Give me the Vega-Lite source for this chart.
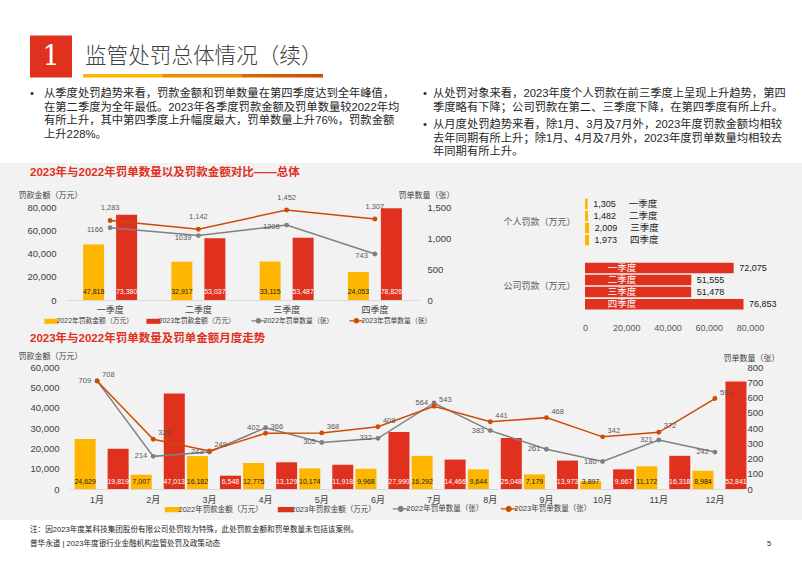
{
  "$schema": "https://vega.github.io/schema/vega-lite/v6.json",
  "background": "#F2F2F2",
  "padding": 0,
  "bounds": "flush",
  "spacing": 0,
  "config": {
    "font": "'Liberation Sans','Noto Sans CJK SC'",
    "view": {"stroke": null},
    "axis": {"ticks": false, "domain": false, "grid": false, "labelOverlap": false, "labelFlush": false, "labelColor": "#404040", "labelFontSize": 9, "titleFontSize": 8, "titleFontWeight": "normal", "titleColor": "#404040"},
    "title": {"anchor": "start", "frame": "group", "fontSize": 11.5, "fontWeight": "bold", "color": "#E0301E", "baseline": "middle"},
    "legend": {"labelColor": "#404040", "titleColor": "#404040"}
  },
  "resolve": {"scale": {"color": "independent"}, "legend": {"color": "independent"}},
  "datasets": {
    "hdr": [
      {"role": "badge", "text": "1"},
      {"role": "title", "text": "监管处罚总体情况（续）"},
      {"role": "body", "col": "L", "para": 1, "line": 1, "first": true, "text": "从季度处罚趋势来看，罚款金额和罚单数量在第四季度达到全年峰值，"},
      {"role": "body", "col": "L", "para": 1, "line": 2, "first": false, "text": "在第二季度为全年最低。2023年各季度罚款金额及罚单数量较2022年均"},
      {"role": "body", "col": "L", "para": 1, "line": 3, "first": false, "text": "有所上升，其中第四季度上升幅度最大，罚单数量上升76%，罚款金额"},
      {"role": "body", "col": "L", "para": 1, "line": 4, "first": false, "text": "上升228%。"},
      {"role": "body", "col": "R", "para": 1, "line": 1, "first": true, "text": "从处罚对象来看，2023年度个人罚款在前三季度上呈现上升趋势，第四"},
      {"role": "body", "col": "R", "para": 1, "line": 2, "first": false, "text": "季度略有下降；公司罚款在第二、三季度下降，在第四季度有所上升。"},
      {"role": "body", "col": "R", "para": 2, "line": 3, "first": true, "text": "从月度处罚趋势来看，除1月、3月及7月外，2023年度罚款金额均相较"},
      {"role": "body", "col": "R", "para": 2, "line": 4, "first": false, "text": "去年同期有所上升；除1月、4月及7月外，2023年度罚单数量均相较去"},
      {"role": "body", "col": "R", "para": 2, "line": 5, "first": false, "text": "年同期有所上升。"}
    ],
    "ftr": [
      {"col": "L", "line": 1, "text": "注：因2023年度某科技集团股份有限公司处罚较为特殊，此处罚款金额和罚单数量未包括该案例。"},
      {"col": "L", "line": 2, "text": "普华永道 | 2023年度银行业金融机构监管处罚及政策动态"},
      {"col": "R", "line": 2, "text": "5"}
    ],
    "qa": [
      {"q": "一季度", "yr": "2022", "s": "2022年罚款金额（万元）", "v": 47818},
      {"q": "一季度", "yr": "2023", "s": "2023年罚款金额（万元）", "v": 73380},
      {"q": "二季度", "yr": "2022", "s": "2022年罚款金额（万元）", "v": 32917},
      {"q": "二季度", "yr": "2023", "s": "2023年罚款金额（万元）", "v": 53037},
      {"q": "三季度", "yr": "2022", "s": "2022年罚款金额（万元）", "v": 33115},
      {"q": "三季度", "yr": "2023", "s": "2023年罚款金额（万元）", "v": 53487},
      {"q": "四季度", "yr": "2022", "s": "2022年罚款金额（万元）", "v": 24053},
      {"q": "四季度", "yr": "2023", "s": "2023年罚款金额（万元）", "v": 78826}
    ],
    "qc": [
      {"q": "一季度", "yr": "2022", "s": "2022年罚单数量（张）", "n": 1166},
      {"q": "二季度", "yr": "2022", "s": "2022年罚单数量（张）", "n": 1039},
      {"q": "三季度", "yr": "2022", "s": "2022年罚单数量（张）", "n": 1208},
      {"q": "四季度", "yr": "2022", "s": "2022年罚单数量（张）", "n": 743},
      {"q": "一季度", "yr": "2023", "s": "2023年罚单数量（张）", "n": 1283},
      {"q": "二季度", "yr": "2023", "s": "2023年罚单数量（张）", "n": 1142},
      {"q": "三季度", "yr": "2023", "s": "2023年罚单数量（张）", "n": 1452},
      {"q": "四季度", "yr": "2023", "s": "2023年罚单数量（张）", "n": 1307}
    ],
    "corp": [
      {"g": "个人罚款（万元）", "q": "一季度", "v": 1305},
      {"g": "个人罚款（万元）", "q": "二季度", "v": 1482},
      {"g": "个人罚款（万元）", "q": "三季度", "v": 2009},
      {"g": "个人罚款（万元）", "q": "四季度", "v": 1973},
      {"g": "公司罚款（万元）", "q": "一季度", "v": 72075},
      {"g": "公司罚款（万元）", "q": "二季度", "v": 51555},
      {"g": "公司罚款（万元）", "q": "三季度", "v": 51478},
      {"g": "公司罚款（万元）", "q": "四季度", "v": 76853}
    ],
    "ma": [
      {"m": "1月", "yr": "2022", "s": "2022年罚款金额（万元）", "v": 24629},
      {"m": "2月", "yr": "2022", "s": "2022年罚款金额（万元）", "v": 7007},
      {"m": "3月", "yr": "2022", "s": "2022年罚款金额（万元）", "v": 16182},
      {"m": "4月", "yr": "2022", "s": "2022年罚款金额（万元）", "v": 12775},
      {"m": "5月", "yr": "2022", "s": "2022年罚款金额（万元）", "v": 10174},
      {"m": "6月", "yr": "2022", "s": "2022年罚款金额（万元）", "v": 9968},
      {"m": "7月", "yr": "2022", "s": "2022年罚款金额（万元）", "v": 16292},
      {"m": "8月", "yr": "2022", "s": "2022年罚款金额（万元）", "v": 9644},
      {"m": "9月", "yr": "2022", "s": "2022年罚款金额（万元）", "v": 7179},
      {"m": "10月", "yr": "2022", "s": "2022年罚款金额（万元）", "v": 3897},
      {"m": "11月", "yr": "2022", "s": "2022年罚款金额（万元）", "v": 11172},
      {"m": "12月", "yr": "2022", "s": "2022年罚款金额（万元）", "v": 8984},
      {"m": "1月", "yr": "2023", "s": "2023年罚款金额（万元）", "v": 19819},
      {"m": "2月", "yr": "2023", "s": "2023年罚款金额（万元）", "v": 47013},
      {"m": "3月", "yr": "2023", "s": "2023年罚款金额（万元）", "v": 6548},
      {"m": "4月", "yr": "2023", "s": "2023年罚款金额（万元）", "v": 13129},
      {"m": "5月", "yr": "2023", "s": "2023年罚款金额（万元）", "v": 11918},
      {"m": "6月", "yr": "2023", "s": "2023年罚款金额（万元）", "v": 27990},
      {"m": "7月", "yr": "2023", "s": "2023年罚款金额（万元）", "v": 14466},
      {"m": "8月", "yr": "2023", "s": "2023年罚款金额（万元）", "v": 25048},
      {"m": "9月", "yr": "2023", "s": "2023年罚款金额（万元）", "v": 13973},
      {"m": "10月", "yr": "2023", "s": "2023年罚款金额（万元）", "v": 9667},
      {"m": "11月", "yr": "2023", "s": "2023年罚款金额（万元）", "v": 16318},
      {"m": "12月", "yr": "2023", "s": "2023年罚款金额（万元）", "v": 52841}
    ],
    "mc": [
      {"m": "1月", "yr": "2022", "s": "2022年罚单数量（张）", "n": 709},
      {"m": "2月", "yr": "2022", "s": "2022年罚单数量（张）", "n": 214},
      {"m": "3月", "yr": "2022", "s": "2022年罚单数量（张）", "n": 243},
      {"m": "4月", "yr": "2022", "s": "2022年罚单数量（张）", "n": 402},
      {"m": "5月", "yr": "2022", "s": "2022年罚单数量（张）", "n": 305},
      {"m": "6月", "yr": "2022", "s": "2022年罚单数量（张）", "n": 332},
      {"m": "7月", "yr": "2022", "s": "2022年罚单数量（张）", "n": 564},
      {"m": "8月", "yr": "2022", "s": "2022年罚单数量（张）", "n": 383},
      {"m": "9月", "yr": "2022", "s": "2022年罚单数量（张）", "n": 261},
      {"m": "10月", "yr": "2022", "s": "2022年罚单数量（张）", "n": 180},
      {"m": "11月", "yr": "2022", "s": "2022年罚单数量（张）", "n": 321},
      {"m": "12月", "yr": "2022", "s": "2022年罚单数量（张）", "n": 242},
      {"m": "1月", "yr": "2023", "s": "2023年罚单数量（张）", "n": 708},
      {"m": "2月", "yr": "2023", "s": "2023年罚单数量（张）", "n": 326},
      {"m": "3月", "yr": "2023", "s": "2023年罚单数量（张）", "n": 249},
      {"m": "4月", "yr": "2023", "s": "2023年罚单数量（张）", "n": 366},
      {"m": "5月", "yr": "2023", "s": "2023年罚单数量（张）", "n": 368},
      {"m": "6月", "yr": "2023", "s": "2023年罚单数量（张）", "n": 408},
      {"m": "7月", "yr": "2023", "s": "2023年罚单数量（张）", "n": 543},
      {"m": "8月", "yr": "2023", "s": "2023年罚单数量（张）", "n": 441},
      {"m": "9月", "yr": "2023", "s": "2023年罚单数量（张）", "n": 468},
      {"m": "10月", "yr": "2023", "s": "2023年罚单数量（张）", "n": 342},
      {"m": "11月", "yr": "2023", "s": "2023年罚单数量（张）", "n": 372},
      {"m": "12月", "yr": "2023", "s": "2023年罚单数量（张）", "n": 593}
    ]
  },
  "vconcat": [
    {
      "width": 802,
      "height": 163,
      "view": {"fill": "white", "stroke": null},
      "data": {"name": "hdr"},
      "layer": [
        {
          "transform": [{"filter": "datum.role=='badge'"}],
          "mark": {"type": "point", "shape": "square", "size": 1764, "filled": true, "fill": "#E0301E", "opacity": 1, "strokeWidth": 0, "xOffset": 7, "yOffset": -23.9},
          "encoding": {
            "x": {"datum": "L", "scale": {"type": "point", "domain": ["L", "R"], "range": [44, 433], "padding": 0}, "axis": null},
            "y": {"datum": 0, "scale": {"domain": [0, 1], "range": [80.4, 94]}, "axis": null}
          }
        },
        {
          "transform": [{"filter": "datum.role=='badge'"}],
          "mark": {"type": "text", "font": "'DejaVu Serif'", "fontSize": 27, "fill": "white", "align": "center", "baseline": "middle", "dx": 7, "dy": -23},
          "encoding": {
            "x": {"datum": "L", "axis": null},
            "y": {"datum": 0, "axis": null},
            "text": {"field": "text"}
          }
        },
        {
          "transform": [{"filter": "datum.role=='title'"}],
          "mark": {"type": "text", "font": "'Noto Sans CJK SC'", "fontWeight": 300, "fontSize": 21.6, "fill": "#404040", "align": "left", "baseline": "middle", "dx": 41, "dy": -23},
          "encoding": {
            "x": {"datum": "L", "axis": null},
            "y": {"datum": 0, "axis": null},
            "text": {"field": "text"}
          }
        },
        {
          "transform": [{"filter": "datum.role=='title'"}],
          "mark": {
            "type": "point",
            "shape": "M-1,-0.0146H1V0.0146H-1Z",
            "size": 57600,
            "filled": true,
            "opacity": 1,
            "strokeWidth": 0,
            "xOffset": 159,
            "yOffset": -4.7,
            "fill": {"gradient": "linear", "x1": 0, "x2": 1, "y1": 0, "y2": 0, "stops": [
              {"offset": 0, "color": "#FFB600"}, {"offset": 0.33, "color": "#FFB600"},
              {"offset": 0.335, "color": "#EB8C00"}, {"offset": 0.66, "color": "#EB8C00"},
              {"offset": 0.665, "color": "#DC6900"}, {"offset": 1, "color": "#D04A02"}
            ]}
          },
          "encoding": {
            "x": {"datum": "L", "axis": null},
            "y": {"datum": 0, "axis": null}
          }
        },
        {
          "transform": [{"filter": "datum.role=='body' && !(datum.col=='R' && datum.para==2)"}],
          "mark": {"type": "text", "fontSize": 11.3, "fill": "#262626", "align": "left", "baseline": "middle"},
          "encoding": {
            "x": {"field": "col", "type": "nominal", "axis": null},
            "y": {"field": "line", "type": "quantitative", "axis": null},
            "text": {"field": "text"}
          }
        },
        {
          "transform": [{"filter": "datum.role=='body' && datum.col=='R' && datum.para==2"}],
          "mark": {"type": "text", "fontSize": 11.3, "fill": "#262626", "align": "left", "baseline": "middle", "dy": 3.8},
          "encoding": {
            "x": {"field": "col", "type": "nominal", "axis": null},
            "y": {"field": "line", "type": "quantitative", "axis": null},
            "text": {"field": "text"}
          }
        },
        {
          "transform": [{"filter": "datum.role=='body' && datum.first && datum.col=='L'"}],
          "mark": {"type": "text", "text": "•", "fontSize": 11.3, "fill": "#262626", "align": "center", "baseline": "middle", "dx": -12},
          "encoding": {
            "x": {"field": "col", "type": "nominal", "axis": null},
            "y": {"field": "line", "type": "quantitative", "axis": null}
          }
        },
        {
          "transform": [{"filter": "datum.role=='body' && datum.first && datum.col=='R' && datum.para==1"}],
          "mark": {"type": "text", "text": "•", "fontSize": 11.3, "fill": "#262626", "align": "center", "baseline": "middle", "dx": -8},
          "encoding": {
            "x": {"field": "col", "type": "nominal", "axis": null},
            "y": {"field": "line", "type": "quantitative", "axis": null}
          }
        },
        {
          "transform": [{"filter": "datum.role=='body' && datum.first && datum.col=='R' && datum.para==2"}],
          "mark": {"type": "text", "text": "•", "fontSize": 11.3, "fill": "#262626", "align": "center", "baseline": "middle", "dx": -8, "dy": 3.8},
          "encoding": {
            "x": {"field": "col", "type": "nominal", "axis": null},
            "y": {"field": "line", "type": "quantitative", "axis": null}
          }
        }
      ]
    },
    {
      "width": 802,
      "height": 177,
      "view": {"fill": "#F2F2F2", "stroke": null},
      "title": {"text": "2023年与2022年罚单数量以及罚款金额对比——总体", "offset": -15, "dx": 30},
      "layer": [
        {
          "encoding": {
            "x": {
              "field": "q", "type": "nominal",
              "scale": {"domain": ["一季度", "二季度", "三季度", "四季度"], "range": [66, 419], "paddingInner": 0.388, "paddingOuter": 0.194},
              "axis": {"title": null, "orient": "bottom", "offset": -40, "labelPadding": 5, "labelFontSize": 9, "labelColor": "#404040", "labelAngle": 0, "domain": true, "domainColor": "#D9D9D9"}
            }
          },
          "layer": [
            {
              "data": {"name": "qa"},
              "encoding": {
                "xOffset": {"field": "yr", "type": "nominal", "scale": {"domain": ["2022", "2023"], "paddingInner": 0.364, "paddingOuter": 0}},
                "y": {
                  "field": "v", "type": "quantitative",
                  "scale": {"domain": [0, 80000], "range": [137, 44], "nice": false},
                  "axis": {"title": "罚款金额（万元）", "orient": "left", "offset": -66, "values": [0, 20000, 40000, 60000, 80000], "format": ",d", "labelPadding": 10, "labelFontSize": 9.5, "titleAngle": 0, "titleX": -48, "titleY": 32, "titleAlign": "left", "titleBaseline": "middle"}
                }
              },
              "layer": [
                {
                  "mark": {"type": "bar"},
                  "encoding": {
                    "color": {
                      "field": "s", "type": "nominal",
                      "scale": {"domain": ["2022年罚款金额（万元）", "2023年罚款金额（万元）", "2022年罚单数量（张）", "2023年罚单数量（张）"], "range": ["#FFB600", "#E0301E", "#808080", "#D04A02"]},
                      "legend": {
                        "title": null, "orient": "none", "legendX": 48, "legendY": 154, "direction": "horizontal",
                        "labelFontSize": 6.8, "labelOffset": 2, "columnPadding": 12, "symbolSize": 196,
                        "encode": {"symbols": {"update": {
                          "shape": {"signal": "(datum.value=='2022年罚单数量（张）'||datum.value=='2023年罚单数量（张）') ? 'M-1,0H1M0.3,0A0.3,0.3,0,1,1,-0.3,0A0.3,0.3,0,1,1,0.3,0Z' : 'M-1,-0.36H1V0.36H-1Z'"},
                          "fill": {"signal": "datum.value=='2022年罚款金额（万元）'?'#FFB600':datum.value=='2023年罚款金额（万元）'?'#E0301E':datum.value=='2022年罚单数量（张）'?'#808080':'#D04A02'"},
                          "stroke": {"signal": "datum.value=='2022年罚款金额（万元）'?'#FFB600':datum.value=='2023年罚款金额（万元）'?'#E0301E':datum.value=='2022年罚单数量（张）'?'#808080':'#D04A02'"},
                          "strokeWidth": {"signal": "(datum.value=='2022年罚单数量（张）'||datum.value=='2023年罚单数量（张）') ? 1.3 : 0"},
                          "opacity": {"value": 1}, "fillOpacity": {"value": 1}, "strokeOpacity": {"value": 1}
                        }}}
                      }
                    }
                  }
                },
                {
                  "mark": {"type": "text", "fontSize": 7, "baseline": "middle", "dy": -8},
                  "encoding": {
                    "y": {"datum": 0},
                    "text": {"field": "v", "format": ","},
                    "color": {"condition": {"test": "datum.yr=='2023'", "value": "white"}, "value": "#1A1A1A"}
                  }
                }
              ]
            },
            {
              "data": {"name": "qc"},
              "encoding": {
                "y": {
                  "field": "n", "type": "quantitative",
                  "scale": {"domain": [0, 1500], "range": [137, 44], "nice": false},
                  "axis": {"title": "罚单数量（张）", "orient": "right", "offset": -383, "values": [0, 500, 1000, 1500], "format": ",d", "labelPadding": 8, "labelFontSize": 9.5, "titleAngle": 0, "titleX": -21, "titleY": 32, "titleAlign": "left", "titleBaseline": "middle"}
                }
              },
              "layer": [
                {
                  "mark": {"type": "line", "strokeWidth": 1.5, "point": {"filled": true, "size": 24, "opacity": 1}},
                  "encoding": {"color": {"field": "s", "type": "nominal"}}
                },
                {
                  "transform": [{"filter": "datum.yr=='2022'"}],
                  "mark": {"type": "text", "fontSize": 7.5, "fill": "#595959", "align": "right", "baseline": "middle", "dx": -7, "dy": 2},
                  "encoding": {"text": {"field": "n", "format": "d"}}
                },
                {
                  "transform": [{"filter": "datum.yr=='2023'"}],
                  "mark": {"type": "text", "fontSize": 7.5, "fill": "#595959", "align": "center", "baseline": "middle", "dy": -12},
                  "encoding": {"text": {"field": "n", "format": ","}}
                }
              ]
            }
          ],
          "resolve": {"scale": {"y": "independent"}}
        },
        {
          "data": {"name": "corp"},
          "encoding": {
            "y": {
              "field": "g", "type": "nominal",
              "scale": {"domain": ["个人罚款（万元）", "公司罚款（万元）"], "range": [27, 155], "paddingInner": 0.27, "paddingOuter": 0.134},
              "axis": {"title": null, "orient": "left", "offset": -585, "labelPadding": 10, "labelFontSize": 9, "labelColor": "#595959"}
            },
            "x": {
              "field": "v", "type": "quantitative",
              "scale": {"domain": [0, 80000], "range": [585, 750], "nice": false},
              "axis": {"title": null, "orient": "bottom", "offset": -22, "values": [0, 20000, 40000, 60000, 80000], "format": ",d", "labelPadding": 5, "labelFontSize": 9, "labelColor": "#595959", "labelOverlap": false, "labelFlush": false, "labelBound": false}
            }
          },
          "layer": [
            {
              "mark": {"type": "bar"},
              "encoding": {
                "yOffset": {"field": "q", "type": "nominal", "scale": {"domain": ["一季度", "二季度", "三季度", "四季度"], "paddingInner": 0.13, "paddingOuter": 0}},
                "color": {"condition": {"test": "datum.g=='个人罚款（万元）'", "value": "#FFB600"}, "value": "#E0301E"}
              }
            },
            {
              "mark": {"type": "text", "fontSize": 9, "fill": "#1A1A1A", "align": "left", "baseline": "middle", "dx": 5.5},
              "encoding": {
                "yOffset": {"field": "q", "type": "nominal"},
                "text": {"field": "v", "format": ","}
              }
            },
            {
              "transform": [{"filter": "datum.g=='个人罚款（万元）'"}],
              "mark": {"type": "text", "fontSize": 9.5, "fill": "#1A1A1A", "align": "left", "baseline": "middle", "dx": 41},
              "encoding": {
                "yOffset": {"field": "q", "type": "nominal"},
                "text": {"field": "q"}
              }
            },
            {
              "transform": [{"filter": "datum.g=='公司罚款（万元）'"}],
              "mark": {"type": "text", "fontSize": 9.5, "fill": "white", "align": "center", "baseline": "middle", "dx": 37},
              "encoding": {
                "yOffset": {"field": "q", "type": "nominal"},
                "x": {"datum": 0},
                "text": {"field": "q"}
              }
            },
            {
              "data": {"values": [{"t": "2023年各季度机构罚款及个人罚款对比"}]},
              "mark": {"type": "text", "fontSize": 11.5, "fontWeight": "bold", "fill": "#E0301E", "align": "left", "baseline": "middle", "dx": -93, "dy": -73.5},
              "encoding": {
                "x": {"datum": 0},
                "text": {"field": "t"}
              }
            }
          ]
        }
      ],
      "resolve": {"scale": {"x": "independent", "y": "independent"}}
    },
    {
      "width": 802,
      "height": 180,
      "view": {"fill": "#F2F2F2", "stroke": null},
      "title": {"text": "2023年与2022年罚单数量及罚单金额月度走势", "offset": -4, "dx": 30},
      "encoding": {
        "x": {
          "field": "m", "type": "nominal",
          "scale": {"domain": ["1月", "2月", "3月", "4月", "5月", "6月", "7月", "8月", "9月", "10月", "11月", "12月"], "range": [69, 743], "paddingInner": 0.2, "paddingOuter": 0.1},
          "axis": {"title": null, "orient": "bottom", "offset": -31, "labelPadding": 6, "labelFontSize": 9, "labelColor": "#404040", "labelAngle": 0, "domain": true, "domainColor": "#D9D9D9"}
        }
      },
      "layer": [
        {
          "data": {"name": "ma"},
          "encoding": {
            "xOffset": {"field": "yr", "type": "nominal", "scale": {"domain": ["2022", "2023"], "paddingInner": 0.125, "paddingOuter": 0}},
            "y": {
              "field": "v", "type": "quantitative",
              "scale": {"domain": [0, 60000], "range": [149, 27], "nice": false},
              "axis": {"title": "罚款金额（万元）", "orient": "left", "offset": -69, "values": [0, 10000, 20000, 30000, 40000, 50000, 60000], "format": ",d", "labelPadding": 10, "labelFontSize": 9.5, "titleAngle": 0, "titleX": -51, "titleY": 16, "titleAlign": "left", "titleBaseline": "middle"}
            }
          },
          "layer": [
            {
              "mark": {"type": "bar"},
              "encoding": {
                "color": {
                  "field": "s", "type": "nominal",
                  "scale": {"domain": ["2022年罚款金额（万元）", "2023年罚款金额（万元）", "2022年罚单数量（张）", "2023年罚单数量（张）"], "range": ["#FFB600", "#E0301E", "#808080", "#D04A02"]},
                  "legend": {
                    "title": null, "orient": "none", "legendX": 169, "legendY": 165, "direction": "horizontal",
                    "labelFontSize": 7.5, "labelOffset": 2, "columnPadding": 14, "symbolSize": 256,
                    "encode": {"symbols": {"update": {
                      "shape": {"signal": "(datum.value=='2022年罚单数量（张）'||datum.value=='2023年罚单数量（张）') ? 'M-1,0H1M0.3,0A0.3,0.3,0,1,1,-0.3,0A0.3,0.3,0,1,1,0.3,0Z' : 'M-1,-0.33H1V0.33H-1Z'"},
                      "fill": {"signal": "datum.value=='2022年罚款金额（万元）'?'#FFB600':datum.value=='2023年罚款金额（万元）'?'#E0301E':datum.value=='2022年罚单数量（张）'?'#808080':'#D04A02'"},
                      "stroke": {"signal": "datum.value=='2022年罚款金额（万元）'?'#FFB600':datum.value=='2023年罚款金额（万元）'?'#E0301E':datum.value=='2022年罚单数量（张）'?'#808080':'#D04A02'"},
                      "strokeWidth": {"signal": "(datum.value=='2022年罚单数量（张）'||datum.value=='2023年罚单数量（张）') ? 1.3 : 0"},
                      "opacity": {"value": 1}, "fillOpacity": {"value": 1}, "strokeOpacity": {"value": 1}
                    }}}
                  }
                }
              }
            },
            {
              "mark": {"type": "text", "fontSize": 7, "baseline": "middle", "dy": -7},
              "encoding": {
                "y": {"datum": 0},
                "text": {"field": "v", "format": ","},
                "color": {"condition": {"test": "datum.yr=='2023'", "value": "white"}, "value": "#1A1A1A"}
              }
            }
          ]
        },
        {
          "data": {"name": "mc"},
          "encoding": {
            "y": {
              "field": "n", "type": "quantitative",
              "scale": {"domain": [0, 800], "range": [149, 27], "nice": false},
              "axis": {"title": "罚单数量（张）", "orient": "right", "offset": -59, "values": [0, 100, 200, 300, 400, 500, 600, 700, 800], "format": "d", "labelPadding": 4, "labelFontSize": 9.5, "titleAngle": 0, "titleX": -20, "titleY": 18, "titleAlign": "left", "titleBaseline": "middle"}
            }
          },
          "layer": [
            {
              "mark": {"type": "line", "strokeWidth": 1.5, "point": {"filled": true, "size": 24, "opacity": 1}},
              "encoding": {"color": {"field": "s", "type": "nominal"}}
            },
            {
              "transform": [{"filter": "datum.yr=='2022'"}],
              "mark": {"type": "text", "fontSize": 7.5, "fill": "#595959", "align": "right", "baseline": "middle", "dx": -6},
              "encoding": {"text": {"field": "n", "format": "d"}}
            },
            {
              "transform": [{"filter": "datum.yr=='2023'"}],
              "mark": {"type": "text", "fontSize": 7.5, "fill": "#595959", "align": "left", "baseline": "middle", "dx": 5, "dy": -6},
              "encoding": {"text": {"field": "n", "format": "d"}}
            }
          ]
        }
      ],
      "resolve": {"scale": {"y": "independent"}}
    },
    {
      "width": 802,
      "height": 47,
      "view": {"fill": "white", "stroke": null},
      "data": {"name": "ftr"},
      "mark": {"type": "text", "fontSize": 7.6, "fill": "#262626", "align": "left", "baseline": "middle"},
      "encoding": {
        "x": {"field": "col", "type": "nominal", "scale": {"type": "point", "domain": ["L", "R"], "range": [30, 767], "padding": 0}, "axis": null},
        "y": {"field": "line", "type": "quantitative", "scale": {"domain": [0, 1], "range": [-4, 10]}, "axis": null},
        "text": {"field": "text"}
      }
    }
  ]
}
